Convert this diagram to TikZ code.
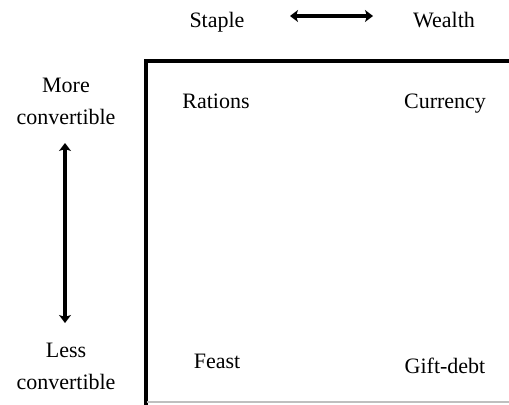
\documentclass[tikz,border=0pt]{standalone}
\usepackage{fontspec}
\setmainfont{Liberation Serif}
\usetikzlibrary{arrows.meta,positioning}

\tikzset{
  label/.style={font=\fontsize{16.5}{24}\selectfont, inner sep=0pt, align=center},
  word/.style={label, anchor=base},
  axis/.style={line width=2.4pt, {Stealth[length=6pt,width=9pt,inset=1.5pt]}-{Stealth[length=6pt,width=9pt,inset=1.5pt]}},
  frame/.style={line width=2.4pt}
}

\begin{document}
\begin{tikzpicture}[x=0.75pt,y=-0.75pt]
  \useasboundingbox (0,0) rectangle (509,404);

  % top axis
  \node[word] (staple) at (217,27) {Staple};
  \node[word] (wealth) at (444,27) {Wealth};
  \coordinate (hl) at (290,16);
  \coordinate (hr) at (373,16);
  \draw[axis] (hl) -- (hr);

  % left axis
  \node[label] (more) at (66,101) {More\\convertible};
  \node[label] (less) at (66,366) {Less\\convertible};
  \coordinate (vt) at (65,143);
  \coordinate (vb) at (65,323);
  \draw[axis] (vt) -- (vb);

  % frame
  \coordinate (tl) at (146,61);
  \coordinate (tr) at (510,61);
  \coordinate (bl) at (146,405);
  \draw[frame] (tr) -- (tl) -- (bl);
  \draw[gray!50, line width=0.8pt] (147,402) -- (509,402);

  % quadrants
  \node[word] (rations) at (216,108) {Rations};
  \node[word] (currency) at (445,108) {Currency};
  \node[word] (feast) at (217,368) {Feast};
  \node[word] (gift) at (445,373) {Gift-debt};
\end{tikzpicture}
\end{document}
